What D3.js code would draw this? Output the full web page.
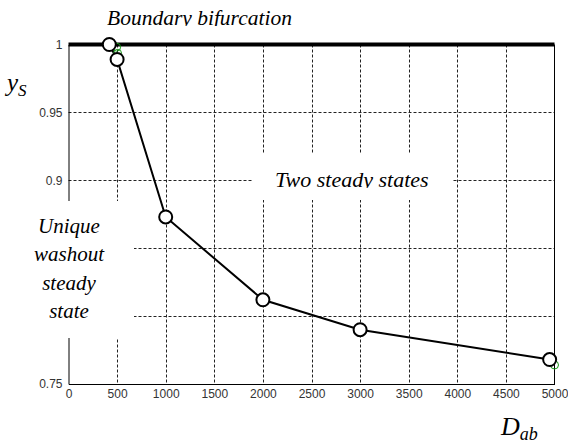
<!DOCTYPE html>
<html>
<head>
<meta charset="utf-8">
<script src="https://cdn.jsdelivr.net/npm/d3@7.9.0/dist/d3.min.js"></script>
<style>
  html, body { margin: 0; padding: 0; background: #fff; }
  svg { display: block; }
  .serif { font-family: "Times New Roman", Times, "Liberation Serif", "DejaVu Serif", serif; font-style: italic; }
  .tick text { font-family: "Liberation Sans", Arial, sans-serif; }
</style>
</head>
<body>
<div id="chart"></div>
<script>
// data
const dabValues = [420, 500, 1000, 2000, 3000, 4950];
const ysValues = [1.0, 0.989, 0.873, 0.812, 0.790, 0.768];
// faint green markers mostly hidden under the black circles
const greenDab = [495, 505, 2000, 3000, 5000];
const greenYs = [0.998, 0.9935, 0.810, 0.788, 0.764];
const xTicks = [0, 500, 1000, 1500, 2000, 2500, 3000, 3500, 4000, 4500, 5000];
const yTicks = [0.75, 0.8, 0.85, 0.9, 0.95, 1];
// 0.8 and 0.85 labels sit under the white text box in the original
const yLabelTicks = [0.75, 0.9, 0.95, 1];
const boundaryY = 1;

const width = 568;
const height = 444;
const margin = { top: 44.5, right: 13.5, bottom: 60, left: 68.5 };

const svg = d3.select('#chart')
  .append('svg')
  .attr('width', width)
  .attr('height', height);

const xScale = d3.scaleLinear()
  .domain([0, 5000])
  .range([margin.left, width - margin.right]);

const yScale = d3.scaleLinear()
  .domain([0.75, 1])
  .range([height - margin.bottom, margin.top]);

const x0 = xScale(0), x1 = xScale(5000);
const y0 = yScale(0.75), y1 = yScale(1);

// grid
const grid = svg.append('g')
  .attr('stroke', '#222')
  .attr('stroke-width', 1)
  .attr('stroke-dasharray', '3,2');

grid.selectAll('line.vx')
  .data(xTicks.slice(1, -1))
  .join('line')
  .attr('class', 'vx')
  .attr('x1', (d) => Math.round(xScale(d)) + 0.5)
  .attr('x2', (d) => Math.round(xScale(d)) + 0.5)
  .attr('y1', y1)
  .attr('y2', y0);

grid.selectAll('line.hy')
  .data(yTicks.slice(1, -1))
  .join('line')
  .attr('class', 'hy')
  .attr('y1', (d) => Math.round(yScale(d)) + 0.5)
  .attr('y2', (d) => Math.round(yScale(d)) + 0.5)
  .attr('x1', x0)
  .attr('x2', x1);

// axes
const xAxis = d3.axisBottom(xScale)
  .tickValues(xTicks)
  .tickSizeInner(0)
  .tickSizeOuter(0)
  .tickPadding(5)
  .tickFormat(d3.format('d'));

const yAxis = d3.axisLeft(yScale)
  .tickValues(yLabelTicks)
  .tickSizeInner(0)
  .tickSizeOuter(0)
  .tickPadding(6)
  .tickFormat((d) => String(d));

svg.append('g')
  .attr('transform', `translate(0,${y0})`)
  .call(xAxis)
  .call((g) => g.select('.domain').attr('stroke', '#000'))
  .selectAll('text')
  .attr('font-size', 12)
  .attr('fill', '#333');

svg.append('g')
  .attr('transform', `translate(${x0},0)`)
  .call(yAxis)
  .call((g) => g.select('.domain').attr('stroke', '#000'))
  .selectAll('text')
  .attr('font-size', 12)
  .attr('fill', '#333');

// right box edge
svg.append('line')
  .attr('x1', x1).attr('x2', x1)
  .attr('y1', y1).attr('y2', y0)
  .attr('stroke', '#000');

// white label boxes that cover the grid
svg.append('rect')
  .attr('x', 0).attr('y', 201)
  .attr('width', 134).attr('height', 137)
  .attr('fill', '#fff');

svg.append('rect')
  .attr('x', 253).attr('y', 153)
  .attr('width', 200).attr('height', 47)
  .attr('fill', '#fff');

// boundary bifurcation line
svg.append('line')
  .attr('x1', x0).attr('x2', x1)
  .attr('y1', yScale(boundaryY)).attr('y2', yScale(boundaryY))
  .attr('stroke', '#000')
  .attr('stroke-width', 4);

// data line
const points = dabValues.map((d, i) => ({ dab: d, ys: ysValues[i] }));
const greens = greenDab.map((d, i) => ({ dab: d, ys: greenYs[i] }));

const line = d3.line()
  .x((d) => xScale(d.dab))
  .y((d) => yScale(d.ys));

svg.append('path')
  .datum(points)
  .attr('d', line)
  .attr('fill', 'none')
  .attr('stroke', '#000')
  .attr('stroke-width', 2);

svg.append('g')
  .selectAll('circle')
  .data(greens)
  .join('circle')
  .attr('cx', (d) => xScale(d.dab))
  .attr('cy', (d) => yScale(d.ys))
  .attr('r', 4)
  .attr('fill', 'none')
  .attr('stroke', '#1a9a1a')
  .attr('stroke-width', 1);

svg.append('g')
  .selectAll('circle')
  .data(points)
  .join('circle')
  .attr('cx', (d) => xScale(d.dab))
  .attr('cy', (d) => yScale(d.ys))
  .attr('r', 6.5)
  .attr('fill', '#fff')
  .attr('stroke', '#000')
  .attr('stroke-width', 2);

// annotations
const defs = svg.append('defs');
defs.append('clipPath').attr('id', 'clipTop')
  .append('rect').attr('x', 0).attr('y', 0).attr('width', 400).attr('height', 26);
defs.append('clipPath').attr('id', 'clipTwo')
  .append('rect').attr('x', 253).attr('y', 153).attr('width', 200).attr('height', 35);

svg.append('text')
  .attr('class', 'serif')
  .attr('x', 107).attr('y', 25)
  .attr('clip-path', 'url(#clipTop)')
  .attr('font-size', 21.5)
  .text('Boundary bifurcation');

svg.append('text')
  .attr('class', 'serif')
  .attr('x', 275).attr('y', 186.5)
  .attr('clip-path', 'url(#clipTwo)')
  .attr('font-size', 22)
  .text('Two steady states');

const uniqueLines = ['Unique', 'washout', 'steady', 'state'];
svg.append('g')
  .selectAll('text')
  .data(uniqueLines)
  .join('text')
  .attr('class', 'serif')
  .attr('x', 69)
  .attr('y', (d, i) => 233 + i * 28.3)
  .attr('text-anchor', 'middle')
  .attr('font-size', 21)
  .text((d) => d);

// axis titles
const yLabel = svg.append('text')
  .attr('class', 'serif')
  .attr('x', 7).attr('y', 91)
  .attr('font-size', 25);
yLabel.append('tspan').text('y');
yLabel.append('tspan').attr('dy', 5).attr('font-size', 17).text('S');

const xLabel = svg.append('text')
  .attr('class', 'serif')
  .attr('x', 501).attr('y', 435)
  .attr('font-size', 26);
xLabel.append('tspan').text('D');
xLabel.append('tspan').attr('dy', 5).attr('font-size', 18).text('ab');
</script>
</body>
</html>
